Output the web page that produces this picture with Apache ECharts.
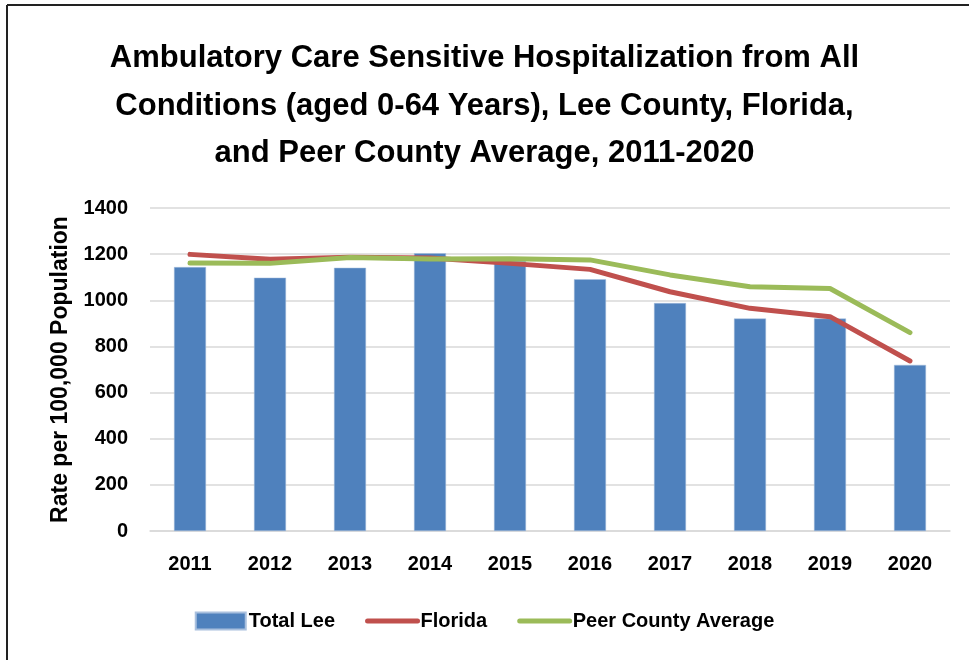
<!DOCTYPE html>
<html><head><meta charset="utf-8">
<script src="https://cdn.jsdelivr.net/npm/echarts@6/dist/echarts.min.js"></script>
<style>html,body{margin:0;padding:0;background:#fff}#c{width:969px;height:660px}</style>
</head><body><div id="c"></div>
<script>
const years = ['2011','2012','2013','2014','2015','2016','2017','2018','2019','2020'];
const totalLee = [1144,1098,1141,1204,1170,1091,988,921,921,720];
const florida = [1199,1178,1186,1183,1160,1134,1037,965,929,737];
const peerAvg = [1162,1160,1185,1179,1180,1175,1110,1059,1051,860];
const yTicks = [0,200,400,600,800,1000,1200,1400];
const FONT = '"Liberation Sans", Arial, sans-serif';

const chart = echarts.init(document.getElementById('c'), null, {renderer:'canvas'});
chart.setOption({
  animation:false,
  backgroundColor:'#fff',
  textStyle:{fontFamily:FONT},
  title:{
    text:'Ambulatory Care Sensitive Hospitalization from All\nConditions (aged 0-64 Years), Lee County, Florida,\nand Peer County Average, 2011-2020',
    left:'center', top:30,
    textStyle:{fontFamily:FONT, fontWeight:'bold', fontSize:31, lineHeight:47.5, color:'#000'}
  },
  grid:{left:150, right:19, top:208, bottom:129, containLabel:false},
  legend:{
    bottom:24, left:'center',
    itemWidth:50, itemHeight:17, itemGap:30,
    textStyle:{fontFamily:FONT, fontWeight:'bold', fontSize:20, color:'#000', padding:[0,0,0,-2]},
    data:[
      {name:'Total Lee', icon:'rect'},
      {name:'Florida', itemStyle:{opacity:0}, lineStyle:{width:5, color:'#C0504D', cap:'round'}},
      {name:'Peer County Average', itemStyle:{opacity:0}, lineStyle:{width:5, color:'#9BBB59', cap:'round'}}
    ]
  },
  xAxis:{
    type:'category', data:years,
    axisLine:{lineStyle:{color:'#d9d9d9', width:1.5}},
    axisTick:{show:false},
    axisLabel:{fontFamily:FONT, fontWeight:'bold', fontSize:20, color:'#000', margin:23}
  },
  yAxis:{
    type:'value', min:yTicks[0], max:yTicks[yTicks.length-1], interval:200,
    name:'Rate per 100,000 Population', nameLocation:'middle', nameGap:77,
    nameTextStyle:{fontFamily:FONT, fontWeight:'bold', fontSize:23, color:'#000'},
    axisLine:{show:false}, axisTick:{show:false},
    splitLine:{lineStyle:{color:'#d9d9d9', width:1.5}},
    axisLabel:{fontFamily:FONT, fontWeight:'bold', fontSize:20, color:'#000', margin:22,
      formatter:function(v){return String(v);}}
  },
  series:[
    {name:'Total Lee', type:'bar', data:totalLee, barWidth:32,
     itemStyle:{color:'#4F81BD', borderColor:'#a9c0de', borderWidth:0.5}},
    {name:'Florida', type:'line', data:florida, symbol:'none',
     lineStyle:{color:'#C0504D', width:5, cap:'round'}, itemStyle:{color:'#C0504D'}},
    {name:'Peer County Average', type:'line', data:peerAvg, symbol:'none',
     lineStyle:{color:'#9BBB59', width:5, cap:'round'}, itemStyle:{color:'#9BBB59'}}
  ],
  graphic:[
    {type:'line', shape:{x1:7, y1:5, x2:969, y2:5}, style:{stroke:'#222', lineWidth:2}},
    {type:'line', shape:{x1:7, y1:5, x2:7, y2:660}, style:{stroke:'#222', lineWidth:2}}
  ]
});
</script></body></html>
